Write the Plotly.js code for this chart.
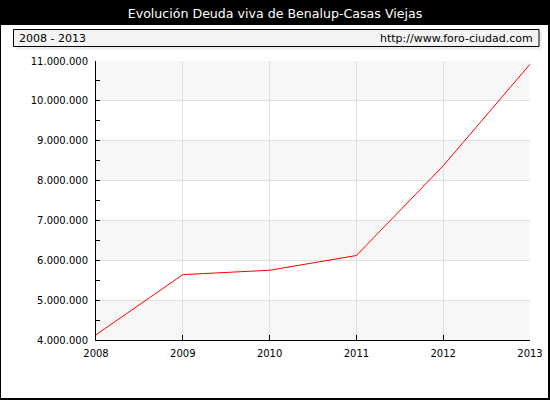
<!DOCTYPE html>
<html><head><meta charset="utf-8">
<script src="https://cdn.plot.ly/plotly-3.0.1.min.js"></script>
<style>html,body{margin:0;padding:0;background:#000;}#c{width:550px;height:400px;}</style>
</head><body><div id="c"></div>
<script>
var years = [2008, 2009, 2010, 2011, 2012, 2013];
var deuda = [4130000, 5640000, 5750000, 6120000, 8370000, 10920000];
var yTicks = [4000000, 5000000, 6000000, 7000000, 8000000, 9000000, 10000000, 11000000];
var yTickText = ["4.000.000","5.000.000","6.000.000","7.000.000","8.000.000","9.000.000","10.000.000","11.000.000"];
var titleText = "Evolución Deuda viva de Benalup-Casas Viejas";
var periodText = "2008 - 2013";
var siteText = "http://www.foro-ciudad.com";

var W = 550, H = 400;
var M = {l:96, r:20, t:61, b:60};
var PW = W - M.l - M.r, PH = H - M.t - M.b;
function px(x){return (x - M.l)/PW;}
function py(y){return (H - M.b - y)/PH;}

var shapes = [
  {type:'rect', xref:'paper', yref:'paper', x0:px(1), x1:px(548), y0:py(398), y1:py(25), fillcolor:'#ffffff', line:{width:0}, layer:'below'},
  {type:'rect', xref:'paper', yref:'paper', x0:px(16), x1:px(542), y0:py(49.5), y1:py(32), fillcolor:'#eeeeee', line:{width:0}, layer:'below'},
  {type:'rect', xref:'paper', yref:'paper', x0:px(13.5), x1:px(539), y0:py(46.5), y1:py(29.5), fillcolor:'#f4f4f4', line:{width:1, color:'#000'}, layer:'below'}
];
for (var i = 0; i < yTicks.length - 1; i += 2) {
  shapes.push({type:'rect', xref:'x', yref:'y', x0:years[0], x1:years[years.length-1], y0:yTicks[i], y1:yTicks[i+1], fillcolor:'#f7f7f7', line:{width:0}, layer:'below'});
}

var font = {family:'DejaVu Sans, Verdana, sans-serif', size:10, color:'#000'};
var layout = {
  width: W, height: H,
  paper_bgcolor:'#000000', plot_bgcolor:'rgba(0,0,0,0)',
  margin:{l:M.l, r:M.r, t:M.t, b:M.b, pad:0},
  showlegend:false,
  font: font,
  title:{text:titleText, font:{family:'DejaVu Sans, Verdana, sans-serif', size:12.6, color:'#ffffff'}, x:0.5, xref:'container', xanchor:'center', y:1 - 14/H, yref:'container', yanchor:'middle'},
  xaxis:{range:[years[0], years[years.length-1]], tickvals:years, ticktext:years.map(String), showgrid:true, gridcolor:'#e0e0e0', gridwidth:1,
    ticks:'inside', ticklen:5, tickcolor:'#000', showline:true, linecolor:'#000', linewidth:1, zeroline:false, tickfont:font, ticklabelstandoff:4, fixedrange:true},
  yaxis:{range:[yTicks[0], yTicks[yTicks.length-1]], tickvals:yTicks, ticktext:yTickText, showgrid:true, gridcolor:'#e0e0e0', gridwidth:1,
    ticks:'inside', ticklen:4, tickcolor:'#000', showline:true, linecolor:'#000', linewidth:1, zeroline:false, tickfont:font, ticklabelstandoff:5,
    minor:{dtick:500000, tick0:4000000, ticks:'inside', ticklen:4, tickcolor:'#000', showgrid:false}, fixedrange:true},
  shapes: shapes,
  annotations:[
    {xref:'paper', yref:'paper', x:px(17), y:py(38), xanchor:'left', yanchor:'middle', text:periodText, showarrow:false, font:{family:'DejaVu Sans, Verdana, sans-serif', size:11, color:'#000'}},
    {xref:'paper', yref:'paper', x:px(535), y:py(38), xanchor:'right', yanchor:'middle', text:siteText, showarrow:false, font:{family:'DejaVu Sans, Verdana, sans-serif', size:11, color:'#000'}}
  ]
};
var trace = {x:years, y:deuda, type:'scatter', mode:'lines', line:{color:'#ff0000', width:1}, hoverinfo:'skip', cliponaxis:false};
Plotly.newPlot('c', [trace], layout, {displayModeBar:false, staticPlot:true});
</script></body></html>
